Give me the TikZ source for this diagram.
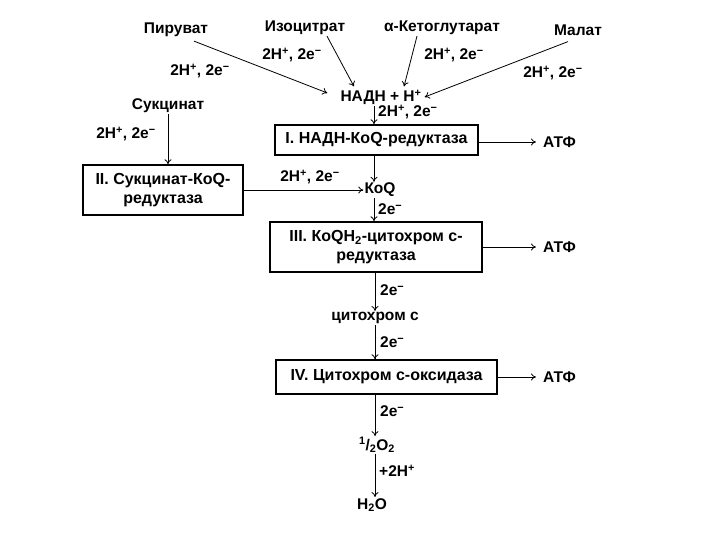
\documentclass[tikz,border=0pt]{standalone}
\usepackage{fontspec}
\setmainfont{Liberation Sans}
\usetikzlibrary{arrows.meta,positioning}
\newcommand{\hte}{2H\textsuperscript{+}, 2e\textsuperscript{−}}
\newcommand{\te}{2e\textsuperscript{−}}

\begin{document}
\begin{tikzpicture}[x=1pt,y=-1pt,
  lab/.style={font=\bfseries\fontsize{15.5}{18}\selectfont,inner sep=1pt},
  enz/.style={draw,line width=1.4pt,align=center,inner sep=2pt,
    font=\bfseries\fontsize{16}{19}\selectfont},
  arr/.style={-{To[length=5pt,width=7pt]},line width=0.8pt}]
\useasboundingbox (0,0) rectangle (720,540);
% substrates
\node[lab] (pyr) at (176,30) {Пируват};
\node[lab] (izo) at (305,28) {Изоцитрат};
\node[lab] (keto) at (442,28) {α-Кетоглутарат};
\node[lab] (mal) at (578,30) {Малат};
\node[lab] (nadh) at (381,97) {НАДН + Н\textsuperscript{+}};
\node[lab] (suc) at (168,106) {Сукцинат};
% complexes
\node[enz,minimum width=203pt,minimum height=30pt] (b1) at (376.5,140) {I. НАДН-КоQ-редуктаза};
\node[enz,minimum width=160pt,minimum height=50pt] (b2) at (163,190) {II. Сукцинат-КоQ-\\редуктаза};
\node[lab] (koq) at (380,190) {КоQ};
\node[enz,minimum width=212pt,minimum height=50pt] (b3) at (376,247) {III. КоQH\textsubscript{2}-цитохром c-\\редуктаза};
\node[lab] (cyt) at (375,318) {цитохром c};
\node[enz,minimum width=221pt,minimum height=34pt] (b4) at (386.5,377) {IV. Цитохром c-оксидаза};
\node[lab] (oxy) at (377,445) {\textsuperscript{1}/\textsubscript{2}O\textsubscript{2}};
\node[lab] (wat) at (372,505) {H\textsubscript{2}O};
\node[lab,anchor=west] (atp1) at (542,142) {АТФ};
\node[lab,anchor=west] (atp3) at (542,247) {АТФ};
\node[lab,anchor=west] (atp4) at (542,377) {АТФ};
\coordinate (ax) at (374,0);
% arrows into NADH
\draw[arr] ([xshift=18pt,yshift=-3pt]pyr.south) -- ([xshift=-12pt,yshift=4pt]nadh.west);
\draw[arr] ([xshift=22pt]izo.south) -- ([xshift=-27pt,yshift=2pt]nadh.north);
\draw[arr] ([xshift=-25pt]keto.south) -- ([xshift=23pt,yshift=2pt]nadh.north);
\draw[arr] ([xshift=-10pt,yshift=-5pt]mal.south) -- ([xshift=2pt]nadh.east);
\node[lab] at (200,71) {\hte};
\node[lab] at (292,55) {\hte};
\node[lab] at (454,55) {\hte};
\node[lab] at (553,73) {\hte};
% chain
\draw[arr] (nadh.south -| ax) -- (b1.north -| ax);
\node[lab,anchor=west] at (377,112) {\hte};
\draw[arr] (suc.south) -- (b2.north -| suc.south);
\node[lab] at (126,134) {\hte};
\draw[arr] (b1.south -| ax) -- (koq.north -| ax);
\draw[arr] (b2.east |- koq.west) -- (koq.west);
\node[lab] at (310,177) {\hte};
\draw[arr] (koq.south -| ax) -- (b3.north -| ax);
\node[lab,anchor=west] at (377,209) {\te};
\draw[arr] (b3.south -| cyt) -- (cyt.north);
\node[lab,anchor=west] at (379,290) {\te};
\draw[arr] (cyt.south) -- (b4.north -| cyt);
\node[lab,anchor=west] at (379,342) {\te};
\draw[arr] (b4.south -| cyt) -- (oxy.north -| cyt);
\node[lab,anchor=west] at (379,411) {\te};
\draw[arr] (oxy.south -| cyt) -- (wat.north -| cyt);
\node[lab,anchor=west] at (378,471) {+2H\textsuperscript{+}};
% ATP
\draw[arr,shorten >=6pt] (b1.east |- atp1.west) -- (atp1.west);
\draw[arr,shorten >=6pt] (b3.east) -- (atp3.west);
\draw[arr,shorten >=6pt] (b4.east) -- (atp4.west);
\end{tikzpicture}
\end{document}
